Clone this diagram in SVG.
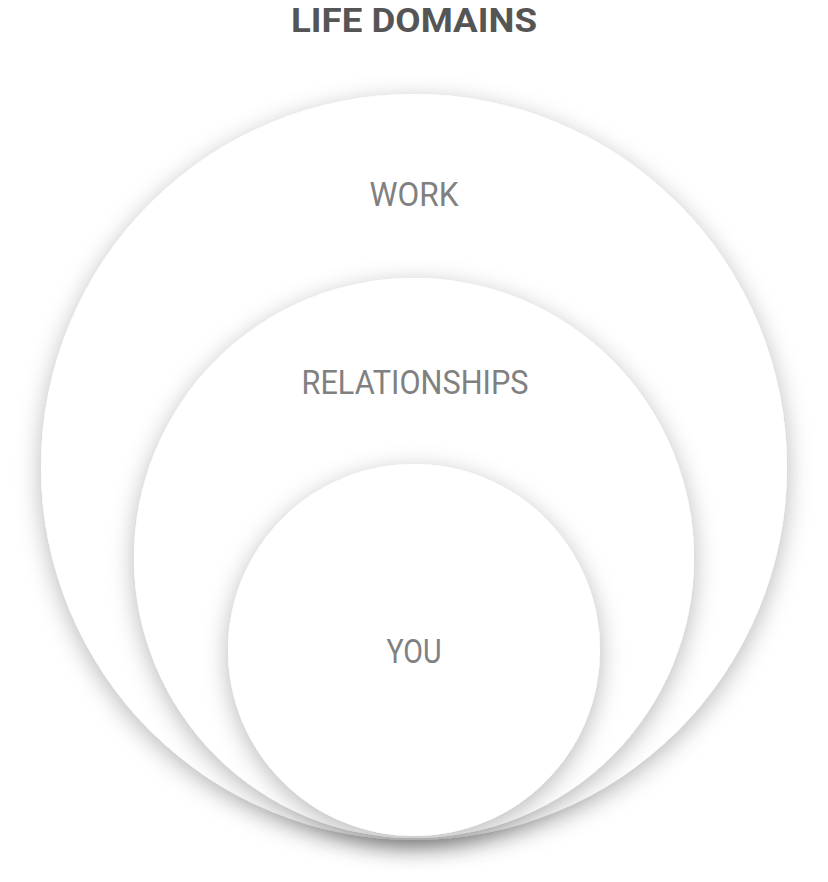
<svg xmlns="http://www.w3.org/2000/svg" width="828" height="882" viewBox="0 0 828 882">
<style>
.c{fill:#fff;filter:url(#sh)}
.lbl{font-family:Roboto,"Liberation Sans",sans-serif;font-size:33px;fill:#808080;text-anchor:middle}
.title{font-family:"Liberation Sans Narrow",Roboto,"Liberation Sans",sans-serif;font-weight:bold;font-size:34px;fill:#555;text-anchor:middle}
</style>
<defs>
<filter id="sh" x="-20%" y="-20%" width="140%" height="140%">
<feDropShadow dx="0" dy="6" stdDeviation="12" flood-color="#000" flood-opacity="0.28"/>
</filter>
</defs>
<rect width="828" height="882" fill="#fff"/>
<g id="title"><text class="title" x="414" y="32" textLength="246" lengthAdjust="spacingAndGlyphs">LIFE DOMAINS</text></g>
<g id="work"><circle class="c" cx="414" cy="467" r="373"/><text class="lbl" x="414" y="206" textLength="89" lengthAdjust="spacingAndGlyphs">WORK</text></g>
<g id="relationships"><circle class="c" cx="414" cy="558" r="280"/><text class="lbl" x="415" y="394" textLength="227" lengthAdjust="spacingAndGlyphs">RELATIONSHIPS</text></g>
<g id="you"><circle class="c" cx="414" cy="650" r="186"/><text class="lbl" x="414" y="663" textLength="55" lengthAdjust="spacingAndGlyphs">YOU</text></g>
<g id="connectors"/>
</svg>
